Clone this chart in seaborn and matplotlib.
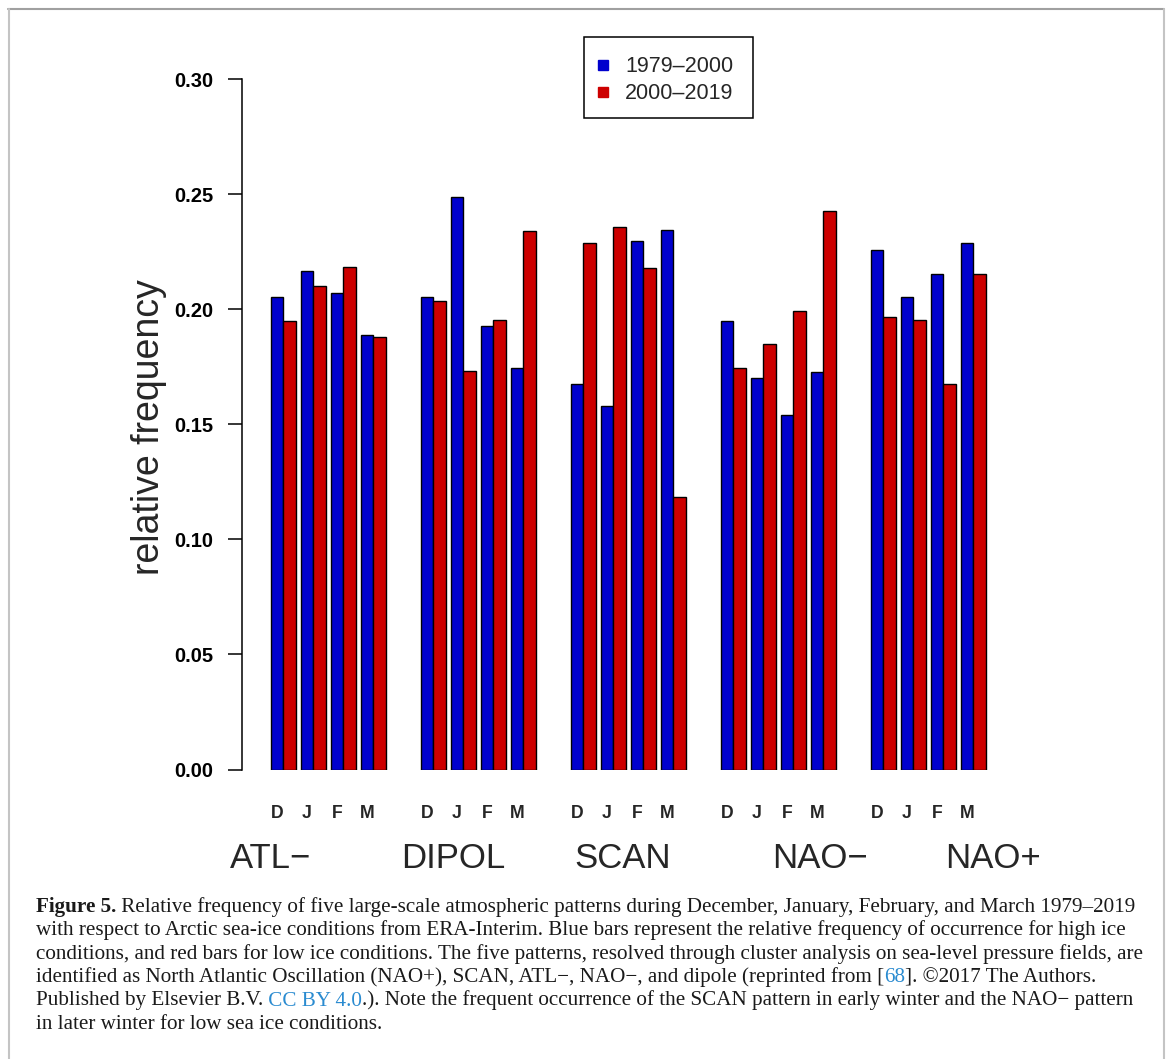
import numpy as np
import pandas as pd
import matplotlib
matplotlib.use("Agg")
import matplotlib.pyplot as plt
import seaborn as sns
from matplotlib.lines import Line2D
from matplotlib.patches import Rectangle

# ---------------- data ----------------
patterns = ["ATL\u2212", "DIPOL", "SCAN", "NAO\u2212", "NAO+"]
months = ["D", "J", "F", "M"]
periods = ["1979\u20132000", "2000\u20132019"]
high_ice = [0.2055, 0.2168, 0.2072, 0.1890,
            0.2055, 0.2490, 0.1926, 0.1744,
            0.1674, 0.1582, 0.2297, 0.2344,
            0.1950, 0.1700, 0.1541, 0.1729,
            0.2256, 0.2052, 0.2153, 0.2287]
low_ice = [0.1950, 0.2103, 0.2182, 0.1881,
           0.2036, 0.1730, 0.1955, 0.2340,
           0.2289, 0.2357, 0.2180, 0.1186,
           0.1747, 0.1849, 0.1995, 0.2426,
           0.1967, 0.1952, 0.1677, 0.2153]
yticks = [0.00, 0.05, 0.10, 0.15, 0.20, 0.25, 0.30]
ytick_labels = ["0.00", "0.05", "0.10", "0.15", "0.20", "0.25", "0.30"]

BLUE = "#0000CD"
RED = "#CD0000"
LINK = "#2a8bd0"

rows = []
for p, pat in enumerate(patterns):
    for m, mon in enumerate(months):
        slot = p * 5 + m
        rows.append(dict(slot=slot, pattern=pat, month=mon, period=periods[0],
                         value=high_ice[p * 4 + m]))
        rows.append(dict(slot=slot, pattern=pat, month=mon, period=periods[1],
                         value=low_ice[p * 4 + m]))
df = pd.DataFrame(rows)

# ---------------- figure ----------------
W, H = 1171, 1059
sns.set_style("white")
plt.rcParams["font.family"] = ["Liberation Sans", "DejaVu Sans"]

fig = plt.figure(figsize=(W / 100, H / 100), dpi=100)

def fx(px):
    return px / W

def fy(py):
    return 1 - py / H

# axes geometry (pixels)
ax_left, ax_right = 241.7, 1018.0
ax_top, ax_bottom = 79.3, 769.5
ax = fig.add_axes([fx(ax_left), fy(ax_bottom), (ax_right - ax_left) / W,
                   (ax_bottom - ax_top) / H])

sns.barplot(data=df, x="slot", y="value", hue="period", hue_order=periods,
            native_scale=True, dodge=True, width=0.84,
            palette=[BLUE, RED], edgecolor="black", linewidth=1.0,
            saturation=1, legend=False, errorbar=None, ax=ax)

px_per_unit = 30.0
x0 = -0.42 - (270.7 - ax_left) / px_per_unit
ax.set_xlim(x0, x0 + (ax_right - ax_left) / px_per_unit)
ax.set_ylim(0, 0.30)
ax.set_facecolor("white")
for s in ["top", "right", "bottom"]:
    ax.spines[s].set_visible(False)
ax.spines["left"].set_bounds(0, 0.30)
ax.spines["left"].set_linewidth(1.1)
ax.spines["left"].set_color("black")
ax.set_xticks([])
ax.set_xlabel("")
ax.set_ylabel("")
ax.set_yticks(yticks)
ax.set_yticklabels(ytick_labels, fontsize=14.5, fontweight="bold")
ax.tick_params(axis="y", left=True, length=10.1, width=1.1, pad=10.5,
               direction="out", colors="black")

# y-axis title
fig.text(fx(149), fy(427), "relative frequency", rotation=90,
         ha="center", va="center", fontsize=27)

def ydata(py):
    return (ax_bottom - py) / (ax_bottom - ax_top) * 0.30

# month labels under the blue bars
for p in range(len(patterns)):
    for m, mon in enumerate(months):
        ax.text(p * 5 + m - 0.21, ydata(813), mon, ha="center", va="center",
                fontsize=12.7, fontweight="bold", clip_on=False)

# pattern names
pattern_cx = [270.5, 453, 623, 820, 993]
for name, cx in zip(patterns, pattern_cx):
    fig.text(fx(cx), fy(859), name, ha="center", va="center", fontsize=25)

# legend box (manual, R style)
fig.add_artist(Rectangle((fx(583.5), fy(118)), (753 - 583.5) / W, (118 - 37.5) / H,
                         transform=fig.transFigure, facecolor="white",
                         edgecolor="black", linewidth=1.1))
for col, lab, yy in [(BLUE, periods[0], 65), (RED, periods[1], 91.5)]:
    fig.add_artist(Line2D([fx(603)], [fy(yy)], marker="s", markersize=7.5,
                          color=col, linestyle="none", transform=fig.transFigure))
    fig.text(fx(625), fy(yy + 2), lab, ha="left", va="center", fontsize=15.5)

# figure frame
fig.add_artist(Line2D([fx(8), fx(1163.5)], [fy(8.5), fy(8.5)], color="#a0a0a0",
                      linewidth=1.5, transform=fig.transFigure))
fig.add_artist(Line2D([fx(8.5), fx(8.5)], [fy(8.5), fy(1059)], color="#c4c4c4",
                      linewidth=1.5, transform=fig.transFigure))
fig.add_artist(Line2D([fx(1163.5), fx(1163.5)], [fy(8.5), fy(1059)], color="#c4c4c4",
                      linewidth=1.5, transform=fig.transFigure))

# ---------------- caption ----------------
serif = ["Liberation Serif", "DejaVu Serif"]
N, B, L = "normal", "bold", "link"
caption_lines = [
    [("Figure 5.", B), (" Relative frequency of five large-scale atmospheric patterns during December, January, February, and March 1979\u20132019", N)],
    [("with respect to Arctic sea-ice conditions from ERA-Interim. Blue bars represent the relative frequency of occurrence for high ice", N)],
    [("conditions, and red bars for low ice conditions. The five patterns, resolved through cluster analysis on sea-level pressure fields, are", N)],
    [("identified as North Atlantic Oscillation (NAO+), SCAN, ATL\u2212, NAO\u2212, and dipole (reprinted from [", N), ("68", L), ("]. \u00a92017 The Authors.", N)],
    [("Published by Elsevier B.V.", N), (" CC BY 4.0", L), (".). Note the frequent occurrence of the SCAN pattern in early winter and the NAO\u2212 pattern", N)],
    [("in later winter for low sea ice conditions.", N)],
]
baselines = [912, 935, 958.5, 982, 1005.5, 1029]
cap_left = 36.0
target_w = 1134.0 - cap_left

renderer = fig.canvas.get_renderer()

def draw_line(pieces, y, size, measure_only=False):
    x = cap_left
    arts = []
    for txt, style in pieces:
        t = fig.text(fx(x), fy(y), txt, ha="left", va="baseline", fontsize=size,
                     family=serif,
                     fontweight="bold" if style == B else "normal",
                     color=LINK if style == L else "#1a1a1a")
        w = t.get_window_extent(renderer).width
        x += w
        arts.append(t)
    if measure_only:
        for a in arts:
            a.remove()
    return x - cap_left

w0 = draw_line(caption_lines[0], baselines[0], 13, measure_only=True)
cap_size = 13 * target_w / w0
for pieces, y in zip(caption_lines, baselines):
    draw_line(pieces, y, cap_size)

fig.savefig("out.png", dpi=100, facecolor="white")
